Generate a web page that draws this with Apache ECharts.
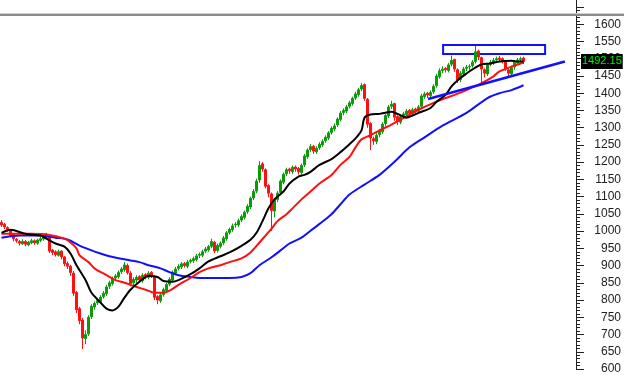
<!DOCTYPE html>
<html>
<head>
<meta charset="utf-8">
<script src="https://cdn.jsdelivr.net/npm/echarts@6/dist/echarts.min.js"></script>
<style>
html,body{margin:0;padding:0;background:#fff;}
#chart{width:624px;height:375px;}
</style>
</head>
<body>
<div id="chart"></div>
<script>
// ---- DATA ----
const opens = [
1025,1020,1010,1003,990,976,970,963,970,960,
966,972,965,973,977,982,985,945,940,930,
942,925,906,898,878,822,775,742,688,702,
752,780,792,796,810,818,840,848,864,868,
882,888,900,878,850,858,868,856,874,866,
880,868,810,798,816,828,846,858,878,892,
896,906,898,912,914,918,930,930,942,946,
956,968,944,956,966,978,996,1004,1018,1018,
1032,1040,1056,1070,1096,1116,1148,1195,1178,1132,
1108,1058,1092,1112,1142,1166,1180,1172,1186,1182,
1170,1192,1216,1236,1246,1230,1242,1250,1262,1270,
1286,1296,1308,1324,1344,1348,1362,1370,1386,1396,
1412,1425,1382,1312,1268,1260,1280,1288,1312,1334,
1362,1370,1332,1316,1334,1338,1350,1340,1354,1348,
1362,1390,1400,1393,1404,1422,1448,1466,1472,1466,
1484,1498,1468,1440,1456,1472,1476,1480,1492,1522,
1503,1468,1456,1484,1488,1496,1502,1500,1492,1468,
1456,1476,1488,1498,1502];
const closes = [
1018,1012,1005,988,978,972,965,970,962,968,
972,966,974,978,983,988,942,938,932,940,
925,905,898,880,820,772,740,690,700,750,
782,790,798,808,820,838,850,862,870,880,
890,902,880,848,860,866,858,872,868,878,
870,808,800,815,830,845,860,880,890,898,
905,900,910,915,920,928,932,940,948,955,
970,942,958,965,980,995,1005,1015,1020,1030,
1042,1055,1072,1095,1115,1145,1190,1180,1130,1110,
1060,1090,1110,1145,1165,1178,1175,1185,1180,1172,
1190,1218,1235,1245,1232,1240,1252,1260,1272,1285,
1298,1305,1325,1342,1350,1360,1372,1385,1398,1410,
1422,1385,1310,1270,1262,1278,1290,1310,1335,1360,
1368,1330,1318,1332,1340,1348,1342,1352,1350,1360,
1392,1398,1395,1402,1420,1450,1465,1470,1468,1482,
1495,1470,1438,1458,1470,1475,1478,1490,1520,1505,
1470,1458,1482,1490,1495,1500,1498,1494,1470,1458,
1474,1490,1496,1500,1492.15];
const highs = [
1032,1024,1014,1006,994,980,974,976,974,972,
978,976,978,984,988,995,990,948,944,946,
944,928,912,902,884,826,780,748,712,756,
788,796,804,814,826,844,856,868,876,886,
896,910,906,884,866,872,872,878,878,884,
884,872,814,820,836,850,866,886,896,904,
910,910,916,920,926,934,938,946,954,960,
978,972,964,970,986,1000,1010,1022,1026,1036,
1048,1060,1078,1100,1122,1152,1203,1200,1182,1136,
1112,1096,1116,1150,1170,1184,1184,1190,1190,1186,
1196,1224,1240,1252,1250,1246,1258,1266,1278,1290,
1304,1312,1330,1348,1356,1366,1378,1390,1404,1416,
1429,1428,1386,1316,1274,1284,1296,1316,1340,1366,
1378,1372,1336,1338,1346,1354,1354,1358,1358,1366,
1398,1404,1404,1408,1426,1456,1472,1478,1476,1488,
1509,1500,1472,1464,1476,1482,1484,1496,1537,1526,
1506,1472,1488,1496,1502,1506,1508,1504,1496,1472,
1480,1496,1502,1506,1506];
const lows = [
1012,1006,998,982,970,966,958,960,956,956,
962,960,960,968,972,978,936,930,926,926,
918,898,890,870,812,762,730,658,672,696,
745,772,786,790,804,812,832,842,858,862,
876,882,874,840,842,850,852,850,860,860,
864,800,788,792,810,822,840,852,872,886,
890,894,892,906,908,912,922,924,936,940,
950,936,938,950,960,972,990,998,1010,1012,
1026,1034,1050,1064,1090,1110,1140,1172,1124,1098,
1000,1040,1084,1104,1136,1160,1166,1166,1172,1164,
1164,1186,1210,1230,1224,1224,1236,1244,1256,1264,
1280,1290,1302,1318,1336,1342,1356,1364,1380,1390,
1406,1378,1300,1235,1250,1252,1272,1282,1304,1328,
1354,1320,1308,1310,1328,1332,1334,1334,1342,1342,
1356,1384,1386,1386,1398,1416,1442,1458,1460,1460,
1478,1462,1430,1432,1450,1464,1468,1474,1486,1496,
1430,1446,1450,1478,1482,1488,1490,1486,1464,1445,
1452,1468,1482,1490,1484];

// moving averages (bar index, value)
const maFastDays = [0,3,8,13,15,18,21,23,25,28,30,33,35,37,39,41,43,46,49,52,54,57,59,63,66,69,73,76,79,83,85,87,89,91,94,96,99,101,103,106,110,113,116,118,120,121,123,126,130,132,135,137,139,143,145,148,150,152,155,157,160,163,166,170,172,174];
const maFastValues = [995,1004,992,987,978,964,955,935,901,858,821,793,775,770,781,807,830,853,870,867,855,853,858,875,892,912,927,938,952,975,995,1029,1066,1092,1115,1138,1158,1163,1172,1192,1209,1229,1252,1269,1292,1329,1338,1340,1346,1340,1329,1335,1343,1357,1375,1395,1420,1437,1457,1469,1483,1486,1492,1494,1492,1492];
const maMidDays = [0,10,16,21,23,25,26,29,31,35,38,41,45,48,51,54,56,59,63,66,69,73,76,80,83,86,88,90,92,95,97,100,103,106,110,113,116,118,120,123,126,130,133,136,139,144,148,151,155,160,164,166,170,173,174];
const maMidValues = [992,992,989,978,967,950,930,910,892,872,858,850,838,830,821,821,827,844,864,881,892,901,910,921,938,967,987,1007,1029,1049,1066,1092,1115,1138,1163,1192,1215,1243,1266,1278,1292,1309,1323,1338,1352,1372,1386,1395,1409,1429,1449,1463,1477,1486,1489];
const maSlowDays = [0,6,13,18,21,23,26,30,33,36,39,43,46,49,53,56,59,63,66,71,76,80,83,86,90,93,96,100,103,106,110,113,116,121,126,131,136,141,147,155,162,166,170,174];
const maSlowValues = [981,987,987,981,978,972,958,944,935,927,921,915,910,901,892,881,872,867,864,864,864,867,878,901,924,944,964,981,1001,1021,1049,1078,1106,1135,1163,1201,1243,1272,1306,1343,1386,1400,1409,1423];

// drawn trend line and box
const trendDays = [142.2, 187.8];
const trendValues = [1383, 1492];
const boxDays = [147.2, 181.2];
const boxValues = [1540, 1514];

const lastLabel = '1492.15';
const totalSlots = 192;
const yTicks = {min: 600, max: 1650, step: 50};

// ---- CHART ----
const categories = [];
for (let i = 0; i < totalSlots; i++) categories.push(String(i + 1));
const candles = opens.map((o, i) => [o, closes[i], lows[i], highs[i]]);
const pairs = (xs, ys) => xs.map((x, i) => [x, ys[i]]);

const chart = echarts.init(document.getElementById('chart'), null, {renderer: 'canvas'});
const FONT = '"Liberation Sans", Arial, sans-serif';
chart.setOption({
  animation: false,
  backgroundColor: '#ffffff',
  grid: {left: 0, right: 48, top: 7, bottom: -1, containLabel: false},
  xAxis: [
    {type: 'category', data: categories, boundaryGap: true, show: false},
    {type: 'value', min: -0.5, max: totalSlots - 0.5, show: false}
  ],
  yAxis: {
    type: 'value', position: 'right', min: yTicks.min, max: yTicks.max, interval: yTicks.step,
    splitLine: {show: false},
    axisLine: {show: true, onZero: false, lineStyle: {color: '#222', width: 1}},
    axisTick: {show: true, length: 8, lineStyle: {color: '#222'}},
    minorTick: {show: true, splitNumber: 5, length: 4, lineStyle: {color: '#222'}},
    axisLabel: {
      margin: 45, align: 'right', color: '#222', fontSize: 12, fontFamily: FONT,
      formatter: v => (v > 1600 ? '' : String(v))
    }
  },
  series: [
    {
      type: 'candlestick', xAxisIndex: 0, data: candles, barWidth: 2,
      itemStyle: {color: '#0a9a0a', color0: '#ff1010', borderColor: '#0a9a0a', borderColor0: '#ff1010', borderWidth: 1}
    },
    {type: 'line', xAxisIndex: 1, data: pairs(maSlowDays, maSlowValues), smooth: 0.3, symbol: 'none',
      lineStyle: {color: '#1010ff', width: 2}},
    {type: 'line', xAxisIndex: 1, data: pairs(maMidDays, maMidValues), smooth: 0.3, symbol: 'none',
      lineStyle: {color: '#ff1010', width: 2}},
    {type: 'line', xAxisIndex: 1, data: pairs(maFastDays, maFastValues), smooth: 0.3, symbol: 'none',
      lineStyle: {color: '#000000', width: 2}},
    {type: 'line', xAxisIndex: 1, data: pairs(trendDays, trendValues), symbol: 'none', clip: false,
      lineStyle: {color: '#1010ff', width: 2.5},
      markArea: {
        silent: true,
        itemStyle: {color: 'rgba(255,255,255,0)', borderColor: '#1010ff', borderWidth: 2},
        data: [[{coord: [boxDays[0], boxValues[0]]}, {coord: [boxDays[1], boxValues[1]]}]]
      },
      markLine: {
        silent: true, symbol: ['none', 'none'],
        lineStyle: {color: 'rgba(0,0,0,0)', width: 1, type: 'solid'},
        data: [{yAxis: closes[closes.length - 1], name: 'last'}],
        label: {
          show: true, position: 'end', distance: 5, formatter: lastLabel,
          backgroundColor: '#000000', color: '#00ee00', fontSize: 11, fontFamily: FONT,
          padding: [2, 1, 2, 1], opacity: 1
        }
      }}
  ],
  graphic: [
    {type: 'rect', shape: {x: 0, y: 0, width: 575, height: 13}, style: {fill: '#fff'}, z: 100},
    {type: 'line', shape: {x1: 576.5, y1: 0, x2: 576.5, y2: 8}, style: {stroke: '#222', lineWidth: 1}, z: 100},
    {type: 'rect', shape: {x: 0, y: 13, width: 624, height: 1}, style: {fill: '#d0d0d0'}, z: 101},
    {type: 'rect', shape: {x: 0, y: 14, width: 624, height: 2}, style: {fill: '#8a8a8a'}, z: 101}
  ]
});
</script>
</body>
</html>
